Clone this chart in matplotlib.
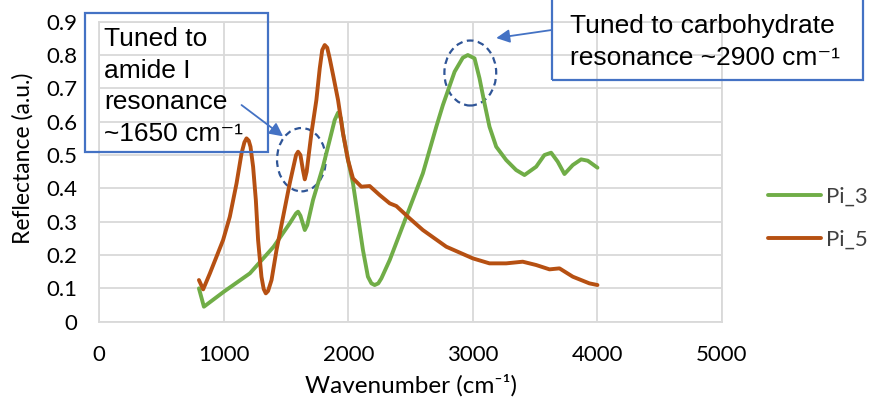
import matplotlib
matplotlib.use("Agg")
import matplotlib.pyplot as plt
from matplotlib.patches import Rectangle, Ellipse

# Pi_3 reflectance spectrum
wn_pi3 = [800, 840, 1000, 1209, 1400, 1529, 1580, 1596, 1615, 1650, 1670,
          1716, 1796, 1850, 1890, 1917, 1940, 1957, 1997, 2037, 2077, 2117,
          2157, 2185, 2211, 2240, 2265, 2332, 2465, 2598, 2706, 2759, 2853,
          2919, 2959, 3013, 3053, 3093, 3133, 3187, 3267, 3347, 3414, 3508,
          3574, 3628, 3681, 3735, 3802, 3869, 3922, 4000]
refl_pi3 = [0.10, 0.045, 0.09, 0.145, 0.225, 0.295, 0.325, 0.330, 0.318,
            0.275, 0.290, 0.365, 0.465, 0.545, 0.605, 0.627, 0.610, 0.565,
            0.485, 0.415, 0.315, 0.215, 0.135, 0.115, 0.110, 0.115, 0.130,
            0.185, 0.315, 0.445, 0.585, 0.650, 0.750, 0.792, 0.800, 0.790,
            0.730, 0.655, 0.585, 0.525, 0.485, 0.455, 0.440, 0.465, 0.500,
            0.507, 0.480, 0.443, 0.470, 0.487, 0.483, 0.462]

# Pi_5 reflectance spectrum
wn_pi5 = [800, 834, 888, 994, 1048, 1102, 1142, 1165, 1182, 1200, 1214,
          1235, 1257, 1275, 1302, 1320, 1337, 1355, 1383, 1423, 1476, 1529,
          1580, 1596, 1615, 1635, 1650, 1665, 1703, 1743, 1770, 1790, 1810,
          1830, 1850, 1880, 1917, 1957, 1997, 2037, 2104, 2171, 2251, 2332,
          2385, 2492, 2598, 2786, 2999, 3133, 3267, 3400, 3508, 3615, 3695,
          3802, 3935, 4000]
refl_pi5 = [0.125, 0.097, 0.145, 0.245, 0.315, 0.415, 0.505, 0.538, 0.550,
            0.543, 0.525, 0.465, 0.365, 0.245, 0.135, 0.098, 0.085, 0.092,
            0.125, 0.215, 0.315, 0.415, 0.500, 0.510, 0.500, 0.455, 0.427,
            0.450, 0.565, 0.665, 0.760, 0.815, 0.830, 0.822, 0.790, 0.735,
            0.665, 0.565, 0.485, 0.430, 0.405, 0.407, 0.380, 0.355, 0.347,
            0.310, 0.275, 0.225, 0.190, 0.175, 0.175, 0.180, 0.170, 0.157,
            0.160, 0.135, 0.115, 0.110]

x_ticks = [0, 1000, 2000, 3000, 4000, 5000]
y_ticks = [0, 0.1, 0.2, 0.3, 0.4, 0.5, 0.6, 0.7, 0.8, 0.9]
y_labels = ['0', '0.1', '0.2', '0.3', '0.4', '0.5', '0.6', '0.7', '0.8', '0.9']

W, H = 869, 404
grey = '#D9D9D9'
box_blue = '#4472C4'
ring_blue = '#2F5597'

plt.rcParams['font.family'] = ['Lato', 'DejaVu Sans']


def fx(px):
    return px / W


def fy(py):
    return 1 - py / H


fig = plt.figure(figsize=(W / 100, H / 100), dpi=100)
ax = fig.add_axes([fx(99.3), fy(321.7), fx(722) - fx(99.3), fy(21.7) - fy(321.7)])

ax.plot(wn_pi3, refl_pi3, color='#70AD47', lw=2.8, label='Pi_3',
        solid_joinstyle='round', solid_capstyle='round')
ax.plot(wn_pi5, refl_pi5, color='#B65012', lw=2.8, label='Pi_5',
        solid_joinstyle='round', solid_capstyle='round')

ax.set_xlim(0, 5000)
ax.set_ylim(0, 0.9)
ax.set_xticks(x_ticks)
ax.set_yticks(y_ticks)
ax.set_yticklabels(y_labels)
ax.tick_params(length=0, labelsize=16, colors='black')
ax.tick_params(axis='x', pad=17)
ax.tick_params(axis='y', pad=16)
ax.grid(True, color=grey, lw=1.3)
ax.set_axisbelow(True)
for s in ax.spines.values():
    s.set_color(grey)
    s.set_linewidth(1.3)

fig.text(fx(411), fy(385), 'Wavenumber (cm⁻¹)', fontsize=17.5,
         ha='center', va='center')
fig.text(fx(23), fy(158), 'Reflectance (a.u.)', fontsize=16.5, rotation=90,
         ha='center', va='center')

fig.legend(loc='center left', bbox_to_anchor=(fx(768), fy(218)), frameon=False,
           fontsize=16, handlelength=2.4, handletextpad=0.2, labelspacing=1.05,
           borderaxespad=0, borderpad=0)
for t in fig.legends[0].get_texts():
    t.set_color('#404040')

# highlighted resonances
ax.add_patch(Ellipse((1623, 0.486), 392, 0.19, fill=False, ec=ring_blue,
                     lw=1.6, ls=(0, (3, 2))))
ax.add_patch(Ellipse((2979, 0.746), 416, 0.195, fill=False, ec=ring_blue,
                     lw=1.6, ls=(0, (3, 2))))

# callout boxes
fig.add_artist(Rectangle((fx(85), fy(152)), fx(268) - fx(85), fy(13) - fy(152),
                         transform=fig.transFigure, fill=False, ec=box_blue, lw=1.6))
fig.add_artist(Rectangle((fx(551.7), fy(80)), fx(863) - fx(551.7), fy(-10) - fy(80),
                         transform=fig.transFigure, fill=False, ec=box_blue, lw=1.6))

ann_font = ['Liberation Sans', 'DejaVu Sans']
fig.text(fx(104), fy(27), 'Tuned to\namide I\nresonance\n~1650 cm⁻¹',
         family=ann_font, fontsize=19, ha='left', va='top', linespacing=1.4)
fig.text(fx(570), fy(14), 'Tuned to carbohydrate\nresonance ~2900 cm⁻¹',
         family=ann_font, fontsize=19, ha='left', va='top', linespacing=1.4)

arrow = dict(arrowstyle='-|>', color=box_blue, lw=1.3, mutation_scale=20,
             shrinkA=0, shrinkB=0)
ax.annotate('', xy=(1476, 0.556), xytext=(1142, 0.650), arrowprops=arrow)
ax.annotate('', xy=(3187, 0.851), xytext=(3631, 0.875), arrowprops=arrow,
            annotation_clip=False)

fig.savefig('out.png', dpi=100)
